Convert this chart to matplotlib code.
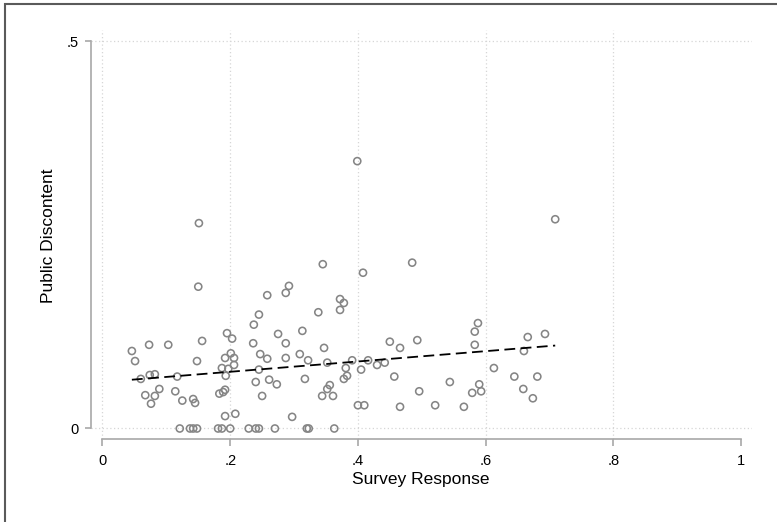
import numpy as np
import matplotlib
matplotlib.use("Agg")
import matplotlib.pyplot as plt
import matplotlib.patches as patches

plt.rcParams['font.family'] = ['Liberation Sans', 'DejaVu Sans']

# survey response (x) and public discontent (y) for each unit
survey = [
    0.399, 0.151, 0.709, 0.345, 0.408, 0.485, 0.150, 0.258, 0.292, 0.287,
    0.372, 0.378, 0.372, 0.338, 0.245, 0.237, 0.195, 0.203, 0.156, 0.103,
    0.073, 0.046, 0.236, 0.051, 0.148, 0.201, 0.192, 0.206, 0.247, 0.258,
    0.206, 0.187, 0.197, 0.245, 0.193, 0.060, 0.074, 0.082, 0.117, 0.240,
    0.261, 0.089, 0.114, 0.067, 0.082, 0.076, 0.125, 0.142, 0.145, 0.183,
    0.189, 0.192, 0.250, 0.192, 0.208, 0.275, 0.313, 0.287, 0.347, 0.287,
    0.309, 0.322, 0.352, 0.391, 0.416, 0.381, 0.405, 0.430, 0.442, 0.450,
    0.466, 0.493, 0.273, 0.317, 0.383, 0.378, 0.356, 0.352, 0.344, 0.361,
    0.457, 0.400, 0.410, 0.466, 0.297, 0.588, 0.583, 0.583, 0.666, 0.693,
    0.660, 0.613, 0.496, 0.544, 0.590, 0.579, 0.593, 0.645, 0.681, 0.659,
    0.674, 0.521, 0.566,
    0.121, 0.137, 0.142, 0.148, 0.181, 0.187, 0.200, 0.229, 0.240, 0.245,
    0.270, 0.320, 0.323, 0.363,
]
discontent = [
    0.345, 0.265, 0.270, 0.212, 0.201, 0.214, 0.183, 0.172, 0.184, 0.175,
    0.167, 0.162, 0.153, 0.150, 0.147, 0.134, 0.123, 0.116, 0.113, 0.108,
    0.108, 0.100, 0.110, 0.087, 0.087, 0.097, 0.091, 0.091, 0.096, 0.090,
    0.082, 0.078, 0.077, 0.076, 0.068, 0.064, 0.069, 0.070, 0.067, 0.060,
    0.063, 0.051, 0.048, 0.043, 0.042, 0.032, 0.036, 0.038, 0.033, 0.045,
    0.047, 0.050, 0.042, 0.016, 0.019, 0.122, 0.126, 0.110, 0.104, 0.091,
    0.096, 0.088, 0.085, 0.088, 0.088, 0.078, 0.076, 0.082, 0.085, 0.112,
    0.104, 0.114, 0.057, 0.064, 0.068, 0.064, 0.056, 0.051, 0.042, 0.042,
    0.067, 0.030, 0.030, 0.028, 0.015, 0.136, 0.125, 0.108, 0.118, 0.122,
    0.100, 0.078, 0.048, 0.060, 0.057, 0.046, 0.048, 0.067, 0.067, 0.051,
    0.039, 0.030, 0.028,
    0.0, 0.0, 0.0, 0.0, 0.0, 0.0, 0.0, 0.0, 0.0, 0.0,
    0.0, 0.0, 0.0, 0.0,
]

x_ticks = [0, 0.2, 0.4, 0.6, 0.8, 1]
x_tick_labels = ["0", ".2", ".4", ".6", ".8", "1"]
y_ticks = [0, 0.5]
y_tick_labels = ["0", ".5"]

x = np.array(survey)
y = np.array(discontent)

fig = plt.figure(figsize=(7.77, 5.22), dpi=100)
ax = fig.add_axes([91 / 777, 1 - 439 / 522, 661 / 777, 409 / 522])

axis_gray = "#a8a8a8"
grid_gray = "#d6d6d6"

ax.scatter(x, y, s=26, facecolors="none", edgecolors="#858585",
           linewidths=1.15, zorder=3)

# linear fit over the observed range
slope, intercept = np.polyfit(x, y, 1)
xf = np.array([x.min(), x.max()])
ax.plot(xf, intercept + slope * xf, color="black", lw=1.3,
        dashes=(6, 3), zorder=4)

ax.set_xlim(-0.018, 1.0172)
ax.set_ylim(-0.01355, 0.5142)

ax.set_xticks(x_ticks)
ax.set_xticklabels(x_tick_labels)
ax.set_yticks(y_ticks)
ax.set_yticklabels(y_tick_labels)

ax.grid(True, color=grid_gray, linestyle=(0, (1, 2)), linewidth=0.9)
ax.xaxis.get_gridlines()[-1].set_visible(False)
ax.set_axisbelow(True)

for side in ("top", "right"):
    ax.spines[side].set_visible(False)
ax.spines["bottom"].set_bounds(0, 1)
ax.spines["left"].set_bounds(0, 0.5)
for side in ("bottom", "left"):
    ax.spines[side].set_color(axis_gray)
    ax.spines[side].set_linewidth(1.2)

ax.tick_params(axis="both", colors=axis_gray, labelcolor="black",
               labelsize=10.5, width=1.2)
ax.tick_params(axis="x", length=5, pad=6)
ax.tick_params(axis="y", length=4, pad=5)

ax.set_xlabel("Survey Response", fontsize=12.5, va="center")
ax.xaxis.set_label_coords(0.4992, -0.100)
ax.set_ylabel("Public Discontent", fontsize=12.5, va="center")
ax.yaxis.set_label_coords(-0.0636, 0.497)

# outer frame of the graph region
frame = patches.Rectangle((4.5 / 777, -0.1), 1.2, 1 - 3.5 / 522 + 0.1,
                          transform=fig.transFigure, fill=False,
                          edgecolor="#5a5a5a", linewidth=1.5, clip_on=False)
fig.patches.append(frame)

fig.savefig("out.png", dpi=100)
